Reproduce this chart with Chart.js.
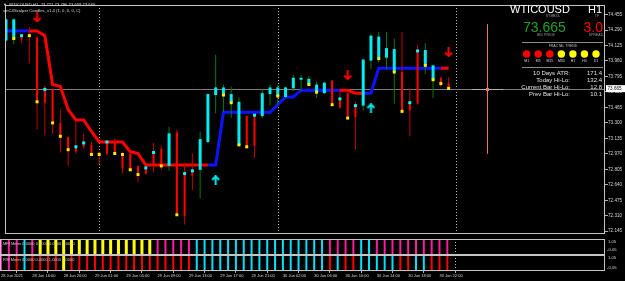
<!DOCTYPE html>
<html>
<head>
<meta charset="utf-8">
<script src="https://cdn.jsdelivr.net/npm/chart.js@4.4.1/dist/chart.umd.min.js"></script>
<style>
  html, body { margin: 0; padding: 0; background: #000; }
  #wrap { position: relative; width: 625px; height: 281px; background: #000; overflow: hidden; }
  canvas { position: absolute; left: 0; }
</style>
</head>
<body>
<div id="wrap">
  <canvas id="mainChart" width="625" height="239" style="top:0"></canvas>
  <canvas id="mfiChart" width="625" height="16" style="top:239px"></canvas>
  <canvas id="rsiChart" width="625" height="26" style="top:255px"></canvas>
</div>
<script>
// WTICOUSD H1, 28 Jun 12:00 .. 30 Jun 23:00 (bar index = position on the time axis)
const symbol = "WTICOUSD";
const timeframe = "H1";
const spread = "3.0";

const opens = [74.179, 74.199, 74.220, 74.250, 74.210, 73.658, 73.658, 73.300, 73.147, 73.045,
  73.086, 73.065, 72.984, 73.096, 73.096, 72.973, 72.973, 72.841, 72.820, 72.984,
  73.024, 72.841, 73.198, 72.759, 72.789, 72.800, 73.096, 73.597, 73.586, 73.515,
  73.065, 73.372, 73.382, 73.372, 73.607, 73.586, 73.576, 73.668, 73.760, 73.709,
  73.627, 73.617, 73.750, 73.556, 73.617, 73.484, 73.484, 73.964, 73.985, 73.995,
  73.842, 73.842, 73.515, 74.067, 73.913, 73.760, 73.781, 73.721];
const highs = [74.414, 74.414, 74.240, 74.322, 74.230, 73.699, 73.668, 73.443, 73.157, 73.311,
  73.188, 73.096, 72.994, 73.106, 73.137, 72.994, 72.973, 72.841, 72.830, 73.086,
  73.055, 73.259, 73.229, 72.871, 72.973, 73.208, 73.617, 74.026, 73.709, 73.689,
  73.576, 73.382, 73.382, 73.658, 73.709, 73.709, 73.689, 73.811, 73.811, 73.801,
  73.740, 73.740, 73.760, 73.658, 73.617, 73.525, 73.985, 74.250, 74.271, 74.271,
  74.199, 74.271, 73.668, 74.128, 74.148, 73.924, 73.791, 73.786];
const lows = [74.169, 74.138, 74.148, 73.934, 73.229, 73.167, 73.178, 72.984, 72.841, 72.973,
  73.024, 72.953, 72.861, 72.953, 72.963, 72.759, 72.789, 72.667, 72.749, 72.769,
  72.800, 72.789, 72.320, 72.217, 72.585, 72.493, 73.086, 73.402, 73.413, 73.351,
  73.055, 73.024, 72.922, 73.351, 73.484, 73.484, 73.566, 73.637, 73.637, 73.699,
  73.566, 73.607, 73.484, 73.454, 73.341, 73.014, 73.433, 73.872, 73.944, 73.872,
  73.505, 73.402, 73.157, 73.494, 73.821, 73.566, 73.689, 73.659];
const closes = [74.404, 74.404, 74.189, 74.220, 73.525, 73.515, 73.300, 73.157, 73.014, 72.994,
  73.045, 72.963, 72.963, 72.973, 72.973, 72.820, 72.800, 72.749, 72.759, 72.841,
  72.841, 73.188, 72.330, 72.309, 72.738, 73.127, 73.607, 73.678, 73.678, 73.607,
  73.525, 73.055, 73.055, 73.617, 73.678, 73.678, 73.678, 73.781, 73.781, 73.770,
  73.709, 73.729, 73.494, 73.464, 73.351, 73.362, 73.975, 74.230, 74.220, 74.097,
  74.087, 73.423, 73.433, 73.505, 74.077, 73.913, 73.719, 73.665];

// trend line of the scalper indicator, +1 = up (blue), -1 = down (red)
const trendLine = [74.281, 74.281, 74.281, 74.281, 74.281, 74.230, 73.709, 73.689, 73.443, 73.331,
  73.331, 73.208, 73.096, 73.096, 73.096, 73.096, 72.994, 72.973, 72.851, 72.851,
  72.851, 72.851, 72.851, 72.851, 72.851, 72.851, 72.851, 72.851, 73.413, 73.413,
  73.413, 73.413, 73.413, 73.413, 73.413, 73.494, 73.576, 73.576, 73.648, 73.648,
  73.648, 73.648, 73.648, 73.648, 73.648, 73.617, 73.617, 73.617, 73.883, 73.883,
  73.883, 73.883, 73.883, 73.883, 73.883, 73.883, 73.883, 73.883];
const trendDir = [1, 1, 1, -1, -1, -1, -1, -1, -1, -1,
  -1, -1, -1, -1, -1, -1, -1, -1, -1, -1,
  -1, -1, -1, -1, -1, -1, 1, 1, 1, 1,
  1, 1, 1, 1, 1, 1, 1, 1, 1, 1,
  1, 1, 1, -1, -1, -1, 1, 1, 1, 1,
  1, 1, 1, 1, 1, 1, -1, -1];

const yellowDotBars = [1, 3, 4, 6, 7, 8, 11, 12, 14, 15, 16, 17, 20, 22, 28, 29, 30, 31, 35, 39, 40, 42, 44, 48, 50, 51, 54, 55, 56, 57];
const yellowDotPrices = [74.199, 74.230, 73.525, 73.300, 73.157, 73.014, 72.963, 72.963, 72.973, 72.963,
  72.800, 72.749, 72.841, 72.320, 73.597, 73.515, 73.065, 73.045, 73.586, 73.709,
  73.627, 73.494, 73.351, 73.985, 73.842, 73.423, 73.913, 73.760, 73.719, 73.668];
const cyanDotBars = [2, 5, 9, 10, 13, 18, 19, 23, 24, 32, 43, 45, 52, 53];
const cyanDotPrices = [74.230, 73.658, 73.045, 73.086, 73.096, 72.820, 72.984, 72.759, 72.789, 73.382, 73.556, 73.484, 73.515, 74.067];

const upArrowBars = [27, 47];
const upArrowPrices = [72.687, 73.454];
const downArrowBars = [4, 44, 57];
const downArrowPrices = [74.424, 73.811, 74.056];

// meter windows: Y yellow, P pink, C cyan, R red
const mfiMeter = ["P", "P", "P", "C", "P", "Y", "Y", "Y", "Y", "Y",
  "Y", "Y", "Y", "Y", "Y", "Y", "Y", "Y", "Y", "Y",
  "P", "P", "P", "P", "P", "C", "C", "C", "C", "C",
  "C", "C", "C", "C", "C", "C", "C", "C", "C", "C",
  "C", "C", "P", "P", "P", "P", "C", "C", "P", "P",
  "P", "P", "P", "P", "P", "P", "P", "P"];
const rsiMeter = ["P", "P", "R", "C", "R", "R", "R", "R", "Y", "R",
  "R", "R", "R", "R", "R", "R", "R", "R", "R", "R",
  "R", "R", "R", "R", "R", "C", "C", "C", "C", "C",
  "C", "C", "C", "C", "C", "C", "C", "C", "C", "C",
  "C", "C", "R", "C", "R", "R", "C", "C", "C", "C",
  "C", "R", "R", "C", "C", "R", "R", "R"];

const priceTicks = [74.455, 74.290, 74.125, 73.960, 73.795, 73.630, 73.465, 73.300, 73.135, 72.970, 72.805, 72.640, 72.475, 72.310, 72.145];
const timeTickBars = [0, 4, 8, 12, 16, 20, 24, 28, 32, 36, 40, 44, 48, 52, 56];
const timeLabels = ["28 Jun 2021", "28 Jun 16:00", "28 Jun 20:00", "29 Jun 01:00", "29 Jun 05:00", "29 Jun 09:00", "29 Jun 13:00",
  "29 Jun 17:00", "29 Jun 21:00", "30 Jun 02:00", "30 Jun 06:00", "30 Jun 10:00", "30 Jun 14:00", "30 Jun 18:00", "30 Jun 22:00"];
const daySeparatorBars = [12, 35, 58];

const fractalFrames = ["M1", "M5", "M15", "M30", "H1", "H4", "D1"];
const fractalTrend = [-1, -1, -1, 1, 1, 1, 1];
const statLabels = ["10 Days ATR:", "Today Hi-Lo:", "Current Bar Hi-Lo:", "Prev Bar Hi-Lo:"];
const statValues = ["171.4", "132.4", "12.8", "10.1"];
const markerBar = 62;
const markerTop = 74.353;
const markerBottom = 72.970;

const FONT = '"Liberation Sans", Arial, sans-serif';
const X_MIN = -0.13, X_MAX = 77.14;
const last = closes.length - 1;
const bid = closes[last];

function drawText(ctx, text, x, y, size, color, align, baseline) {
  ctx.font = size + 'px ' + FONT;
  ctx.fillStyle = color;
  ctx.textAlign = align || 'left';
  ctx.textBaseline = baseline || 'middle';
  ctx.fillText(text, x, y);
}

function arrowImage(color, up) {
  const c = document.createElement('canvas');
  c.width = 9; c.height = 10;
  const g = c.getContext('2d');
  g.strokeStyle = color; g.lineWidth = 2;
  if (!up) { g.translate(0, 10); g.scale(1, -1); }
  g.beginPath(); g.moveTo(4.5, 1); g.lineTo(4.5, 10); g.stroke();
  g.beginPath(); g.moveTo(1, 4.5); g.lineTo(4.5, 1); g.lineTo(8, 4.5); g.stroke();
  return c;
}

function separators(chart) {
  const {ctx, chartArea: a, scales: {x}} = chart;
  ctx.save();
  ctx.strokeStyle = '#bdbdbd';
  ctx.lineWidth = 1;
  ctx.setLineDash([1, 2]);
  daySeparatorBars.forEach(i => {
    const px = Math.round(x.getPixelForValue(i)) + 0.5;
    ctx.beginPath(); ctx.moveTo(px, a.top); ctx.lineTo(px, a.bottom); ctx.stroke();
  });
  ctx.restore();
}

function frame(chart) {
  const {ctx, chartArea: a} = chart;
  ctx.save();
  ctx.strokeStyle = '#c4c4c4';
  ctx.lineWidth = 1;
  ctx.strokeRect(a.left + 0.5, a.top + 0.5, a.right - a.left - 1, a.bottom - a.top - 1);
  ctx.restore();
}

const mainOverlay = {
  id: 'mainOverlay',
  beforeDatasetsDraw(chart) {
    const {ctx, chartArea: a, scales: {x, y}} = chart;
    separators(chart);
    ctx.save();
    const by = Math.round(y.getPixelForValue(bid)) + 0.5;
    ctx.strokeStyle = '#7c7c7c';
    ctx.beginPath(); ctx.moveTo(a.left, by); ctx.lineTo(a.right, by); ctx.stroke();
    // price marker object
    const mx = Math.round(x.getPixelForValue(markerBar)) + 0.5;
    ctx.strokeStyle = '#f07858';
    ctx.beginPath(); ctx.moveTo(mx, y.getPixelForValue(markerTop)); ctx.lineTo(mx, y.getPixelForValue(markerBottom)); ctx.stroke();
    ctx.strokeStyle = '#b0b0b0';
    ctx.beginPath(); ctx.moveTo(x.getPixelForValue(markerBar - 2), by); ctx.lineTo(x.getPixelForValue(markerBar + 2), by); ctx.stroke();
    ctx.fillStyle = '#f07858';
    ctx.fillRect(mx - 1.5, by - 1.5, 3, 3);
    ctx.restore();
  },
  afterDraw(chart) {
    const {ctx, chartArea: a, scales: {y}} = chart;
    frame(chart);
    ctx.save();
    // current price box on the axis
    const by = y.getPixelForValue(bid);
    ctx.fillStyle = '#ffffff';
    ctx.fillRect(a.right + 1, by - 3.5, 19, 7);
    drawText(ctx, bid.toFixed(3), a.right + 2.5, by, 4.6, '#000');

    // header
    drawText(ctx, '\u25BC', 5, 4.5, 4, '#d8d8d8', 'center');
    drawText(ctx, symbol + ',' + timeframe + '  ' + opens[last].toFixed(3) + ' ' + highs[last].toFixed(3) + ' ' +
      lows[last].toFixed(3) + ' ' + closes[last].toFixed(3), 9, 4.5, 4.2, '#d8d8d8');
    drawText(ctx, 'smC4Scalper Candles_v1.4 (1, 0, 0, 0, C)', 3, 11, 4.2, '#d8d8d8');

    // info panel
    drawText(ctx, symbol, 510, 13, 11, '#ffffff', 'left', 'alphabetic');
    drawText(ctx, timeframe, 602, 13, 11, '#ffffff', 'right', 'alphabetic');
    drawText(ctx, 'SYMBOL', 553, 16.5, 3.5, '#9a9a9a', 'center');
    drawText(ctx, 'TF', 597, 16.5, 3.5, '#9a9a9a', 'center');
    drawText(ctx, bid.toFixed(3), 523, 32, 14, '#23a023', 'left', 'alphabetic');
    drawText(ctx, spread, 603, 32, 14, '#ff0000', 'right', 'alphabetic');
    drawText(ctx, 'BID PRICE', 546, 35.5, 3.5, '#9a9a9a', 'center');
    drawText(ctx, 'SPREAD', 596, 35.5, 3.5, '#9a9a9a', 'center');
    ctx.strokeStyle = '#8a8a8a';
    ctx.beginPath(); ctx.moveTo(522, 42.5); ctx.lineTo(603, 42.5); ctx.stroke();
    drawText(ctx, 'FRACTAL TREND', 563, 46.5, 3.5, '#bdbdbd', 'center');
    fractalFrames.forEach((tf, k) => {
      const cx = 526.7 + k * 11.55;
      ctx.fillStyle = fractalTrend[k] > 0 ? '#ffff00' : '#ff0000';
      ctx.beginPath(); ctx.arc(cx, 54, 3.7, 0, Math.PI * 2); ctx.fill();
      drawText(ctx, tf, cx, 61, 3.5, '#d0d0d0', 'center');
    });
    ctx.strokeStyle = '#8a8a8a';
    ctx.beginPath(); ctx.moveTo(522, 67.5); ctx.lineTo(603, 67.5); ctx.stroke();
    statLabels.forEach((t, k) => {
      drawText(ctx, t, 570, 73.5 + k * 7, 6, '#e0e0e0', 'right');
      drawText(ctx, statValues[k], 602, 73.5 + k * 7, 6, '#e0e0e0', 'right');
    });
    ctx.restore();
  }
};

function panelOverlay(title, topLabelY, bottomLabelY) {
  return {
    id: 'panelOverlay',
    beforeDatasetsDraw(chart) { separators(chart); },
    afterDraw(chart) {
      const {ctx, chartArea: a} = chart;
      frame(chart);
      drawText(ctx, title, 3, 5, 4, '#d0d0d0');
      drawText(ctx, '1.05', a.right + 3, topLabelY, 4.2, '#d0d0d0');
      drawText(ctx, '-0.05', a.right + 2, bottomLabelY, 4.2, '#d0d0d0');
    }
  };
}

const candleWickUp = [], candleWickDn = [], candleBodyUp = [], candleBodyDn = [];
closes.forEach((c, i) => {
  const wick = {x: i, y: [lows[i], highs[i]]};
  const body = {x: i, y: [opens[i], c]};
  if (c >= opens[i]) { candleWickUp.push(wick); candleBodyUp.push(body); }
  else { candleWickDn.push(wick); candleBodyDn.push(body); }
});

function points(bars, prices) { return bars.map((b, k) => ({x: b, y: prices[k]})); }

const baseX = {type: 'linear', min: X_MIN, max: X_MAX, offset: false, display: false};
const common = {
  responsive: false,
  animation: false,
  devicePixelRatio: 1,
  events: [],
  layout: {padding: 0},
  plugins: {legend: {display: false}, tooltip: {enabled: false}}
};

new Chart(document.getElementById('mainChart'), {
  type: 'bar',
  data: {
    datasets: [
      {
        type: 'line',
        data: trendLine.map((v, i) => ({x: i, y: v})),
        borderWidth: 3,
        pointRadius: 0,
        borderColor: '#ff0000',
        segment: {borderColor: ctx => trendDir[ctx.p0DataIndex] > 0 ? '#0a14ff' : '#ff0000'},
        order: 6
      },
      {data: candleWickUp, backgroundColor: '#087a0a', barThickness: 1, grouped: false, inflateAmount: 0, order: 5},
      {data: candleWickDn, backgroundColor: '#c80000', barThickness: 1, grouped: false, inflateAmount: 0, order: 5},
      {data: candleBodyUp, backgroundColor: '#00eef2', barThickness: 3, grouped: false, inflateAmount: 0, minBarLength: 1, order: 4},
      {data: candleBodyDn, backgroundColor: '#ff0000', barThickness: 2, grouped: false, inflateAmount: 0, minBarLength: 1, order: 4},
      {
        type: 'line', showLine: false, data: points(yellowDotBars, yellowDotPrices),
        pointStyle: 'rect', pointRadius: 2.1, pointBorderWidth: 0, pointBackgroundColor: '#ffee00', order: 3
      },
      {
        type: 'line', showLine: false, data: points(cyanDotBars, cyanDotPrices),
        pointStyle: 'rect', pointRadius: 2.1, pointBorderWidth: 0, pointBackgroundColor: '#00ffff', order: 3
      },
      {
        type: 'line', showLine: false, data: points(upArrowBars, upArrowPrices),
        pointStyle: arrowImage('#00f0f0', true), pointRadius: 4, order: 1
      },
      {
        type: 'line', showLine: false, data: points(downArrowBars, downArrowPrices),
        pointStyle: arrowImage('#ff0000', false), pointRadius: 4, order: 1
      }
    ]
  },
  options: {
    ...common,
    scales: {
      x: baseX,
      y: {
        type: 'linear', position: 'right', min: 72.115, max: 74.557, bounds: 'data',
        afterBuildTicks: s => { s.ticks = priceTicks.map(v => ({value: v})); },
        afterFit: s => { s.width = 20; s.paddingTop = 0; s.paddingBottom = 0; },
        grid: {drawOnChartArea: false, drawTicks: true, tickLength: 3, color: '#b0b0b0'},
        border: {display: false},
        ticks: {autoSkip: false, padding: 0, color: '#d6d6d6', font: {family: FONT, size: 4.6}, callback: v => v.toFixed(3)}
      }
    }
  },
  plugins: [mainOverlay]
});

const meterColors = {Y: '#ffff00', P: '#ff1aa0', C: '#00e0ff', R: '#ff0000'};
function meterDatasets(codes) {
  return Object.keys(meterColors).map(code => ({
    data: codes.map((c, i) => c === code ? {x: i, y: 1} : null).filter(p => p),
    backgroundColor: meterColors[code],
    barThickness: code === 'Y' ? 3 : 2,
    grouped: false,
    inflateAmount: 0
  })).filter(d => d.data.length);
}

const panelY = {
  type: 'linear', position: 'right', min: -0.05, max: 1.05, bounds: 'data',
  afterFit: s => { s.width = 20; s.paddingTop = 0; s.paddingBottom = 0; },
  grid: {display: false}, border: {display: false}, ticks: {display: false}
};

new Chart(document.getElementById('mfiChart'), {
  type: 'bar',
  data: {datasets: meterDatasets(mfiMeter)},
  options: {...common, scales: {x: baseX, y: panelY}},
  plugins: [panelOverlay('MFI Meter 0.0000 0.0000 0.0000 0.0000', 3, 11)]
});

new Chart(document.getElementById('rsiChart'), {
  type: 'bar',
  data: {datasets: meterDatasets(rsiMeter)},
  options: {
    ...common,
    scales: {
      x: {
        type: 'linear', min: X_MIN, max: X_MAX, offset: false, position: 'bottom',
        afterBuildTicks: s => { s.ticks = timeTickBars.map(v => ({value: v})); },
        afterFit: s => { s.height = 10; s.paddingLeft = 0; s.paddingRight = 0; },
        grid: {drawOnChartArea: false, tickLength: 2, color: '#b0b0b0'},
        border: {display: false},
        ticks: {
          autoSkip: false, maxRotation: 0, minRotation: 0, align: 'start', padding: 0,
          color: '#d6d6d6', font: {family: FONT, size: 4}, callback: (v, i) => timeLabels[i]
        }
      },
      y: panelY
    }
  },
  plugins: [panelOverlay('RSI Meter 0.0000 0.0000 1.0000 0.0000', 3, 13)]
});
</script>
</body>
</html>
